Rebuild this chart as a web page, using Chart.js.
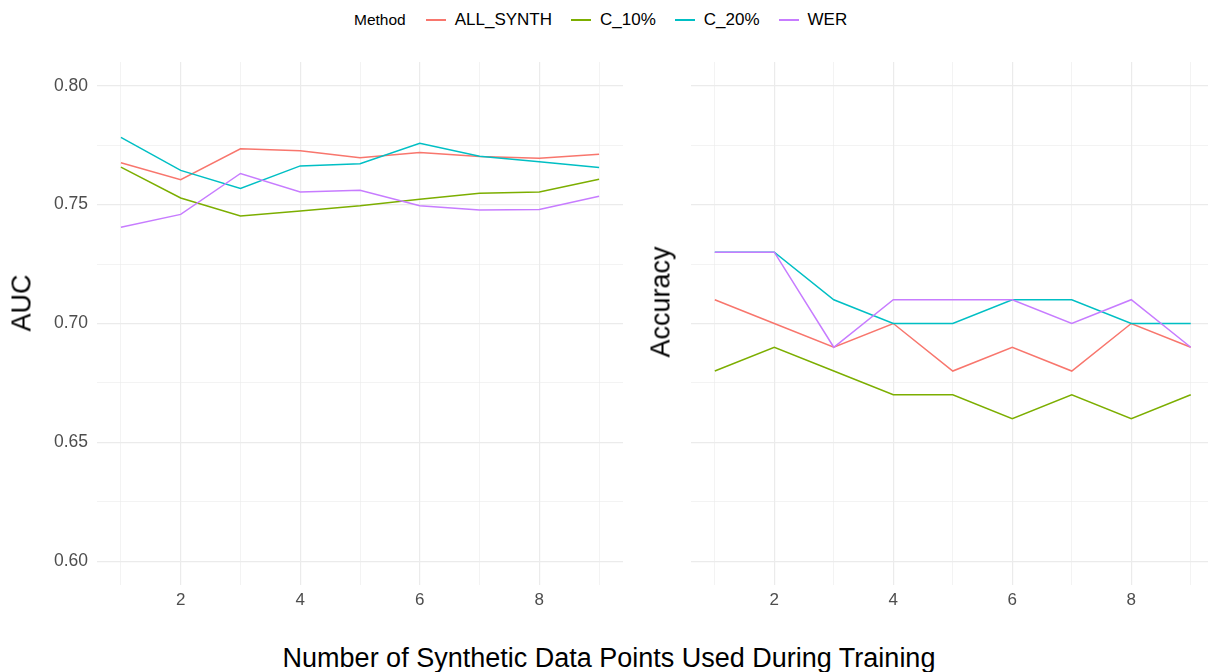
<!DOCTYPE html>
<html lang="en">
<head>
    <meta charset="UTF-8">
    <title>AUC and Accuracy by Number of Synthetic Data Points</title>
    <script src="https://cdn.jsdelivr.net/npm/chart.js"></script>
    <style>
        body {
            margin: 0;
            width: 1208px;
            height: 672px;
            position: relative;
            background: #fff;
            font-family: "Liberation Sans", Arial, sans-serif;
            overflow: hidden;
        }
        canvas { position: absolute; top: 0; }
        #aucChart { left: 0; }
        #accChart { left: 640px; }
        .legend {
            position: absolute;
            top: 10px;
            left: 354px;
            display: flex;
            align-items: center;
        }
        .legend .title { font-size: 15.5px; margin-right: 20px; }
        .legend .item { display: flex; align-items: center; margin-right: 19px; font-size: 17px; }
        .legend .item:last-child { margin-right: 0; }
        .legend .key { width: 20px; height: 1.5px; margin-right: 9px; }
        .axis-title {
            position: absolute;
            font-size: 27px;
            color: #000;
            white-space: nowrap;
            transform: translate(-50%, -50%);
        }
        .axis-title.rot { transform: translate(-50%, -50%) rotate(-90deg); }
    </style>
</head>
<body>
    <div class="legend" id="legend"><span class="title">Method</span></div>

    <canvas id="aucChart" width="630" height="620"></canvas>
    <canvas id="accChart" width="568" height="620"></canvas>

    <div class="axis-title rot" style="left:22px; top:303px;">AUC</div>
    <div class="axis-title rot" style="left:661px; top:302px;">Accuracy</div>
    <div class="axis-title" style="left:609px; top:658px;">Number of Synthetic Data Points Used During Training</div>

    <script>
        // data
        const xValues = [1, 2, 3, 4, 5, 6, 7, 8, 9];
        const methods = ['ALL_SYNTH', 'C_10%', 'C_20%', 'WER'];
        const colors = ['#F8766D', '#7CAE00', '#00BFC4', '#C77CFF'];

        const aucAllSynth = [0.7676, 0.7605, 0.7735, 0.7727, 0.7697, 0.7719, 0.7702, 0.7695, 0.7712];
        const aucC10 = [0.7658, 0.7528, 0.7452, 0.7473, 0.7495, 0.7523, 0.7548, 0.7553, 0.7607];
        const aucC20 = [0.7783, 0.7644, 0.7568, 0.7663, 0.7672, 0.7758, 0.7704, 0.7680, 0.7656];
        const aucWER = [0.7405, 0.7459, 0.7631, 0.7553, 0.7560, 0.7495, 0.7477, 0.7480, 0.7535];

        const accAllSynth = [0.71, 0.70, 0.69, 0.70, 0.68, 0.69, 0.68, 0.70, 0.69];
        const accC10 = [0.68, 0.69, 0.68, 0.67, 0.67, 0.66, 0.67, 0.66, 0.67];
        const accC20 = [0.73, 0.73, 0.71, 0.70, 0.70, 0.71, 0.71, 0.70, 0.70];
        const accWER = [0.73, 0.73, 0.69, 0.71, 0.71, 0.71, 0.70, 0.71, 0.69];

        const xGrid = [1, 2, 3, 4, 5, 6, 7, 8, 9];
        const yGrid = [0.6, 0.625, 0.65, 0.675, 0.7, 0.725, 0.75, 0.775, 0.8];

        // html legend
        const legend = document.getElementById('legend');
        methods.forEach((m, i) => {
            const item = document.createElement('span');
            item.className = 'item';
            item.innerHTML = '<span class="key" style="background:' + colors[i] + '"></span>' + m;
            legend.appendChild(item);
        });

        function isMajorY(v) {
            return Math.round(v * 1000) % 50 === 0;
        }

        function makePanel(id, series, xMax, yWidth, padRight, showYLabels) {
            const ctx = document.getElementById(id).getContext('2d');
            return new Chart(ctx, {
                type: 'line',
                data: {
                    datasets: series.map((s, i) => ({
                        label: methods[i],
                        data: xValues.map((x, j) => ({ x: x, y: s[j] })),
                        borderColor: colors[i],
                        backgroundColor: colors[i],
                        borderWidth: 1.5,
                        pointRadius: 0,
                        tension: 0,
                        fill: false,
                        order: series.length - i
                    }))
                },
                options: {
                    responsive: false,
                    animation: false,
                    layout: { padding: { top: 62, right: padRight, left: 0, bottom: 0 } },
                    plugins: {
                        legend: { display: false },
                        tooltip: { enabled: false }
                    },
                    scales: {
                        x: {
                            type: 'linear',
                            min: 0.6,
                            max: xMax,
                            afterBuildTicks: s => { s.ticks = xGrid.map(v => ({ value: v })); },
                            afterFit: s => { s.height = 35; },
                            border: { display: false },
                            grid: {
                                color: '#EBEBEB',
                                lineWidth: c => (c.tick && c.tick.value % 2 === 0) ? 1.2 : 0.6,
                                drawTicks: false
                            },
                            ticks: {
                                autoSkip: false,
                                maxRotation: 0,
                                padding: 5,
                                color: '#4D4D4D',
                                font: { family: '"Liberation Sans", Arial, sans-serif', size: 17 },
                                callback: v => v % 2 === 0 ? String(v) : ''
                            }
                        },
                        y: {
                            min: 0.59,
                            max: 0.81,
                            afterBuildTicks: s => { s.ticks = yGrid.map(v => ({ value: v })); },
                            afterFit: s => { s.width = yWidth; },
                            border: { display: false },
                            grid: {
                                color: '#EBEBEB',
                                lineWidth: c => (c.tick && isMajorY(c.tick.value)) ? 1.2 : 0.6,
                                drawTicks: false
                            },
                            ticks: {
                                display: showYLabels,
                                autoSkip: false,
                                padding: 9,
                                color: '#4D4D4D',
                                font: { family: '"Liberation Sans", Arial, sans-serif', size: 17.5 },
                                callback: v => isMajorY(v) ? v.toFixed(2) : ''
                            }
                        }
                    }
                }
            });
        }

        makePanel('aucChart', [aucAllSynth, aucC10, aucC20, aucWER], 9.4, 97, 7, true);
        makePanel('accChart', [accAllSynth, accC10, accC20, accWER], 9.29, 51, 0, false);
    </script>
</body>
</html>
